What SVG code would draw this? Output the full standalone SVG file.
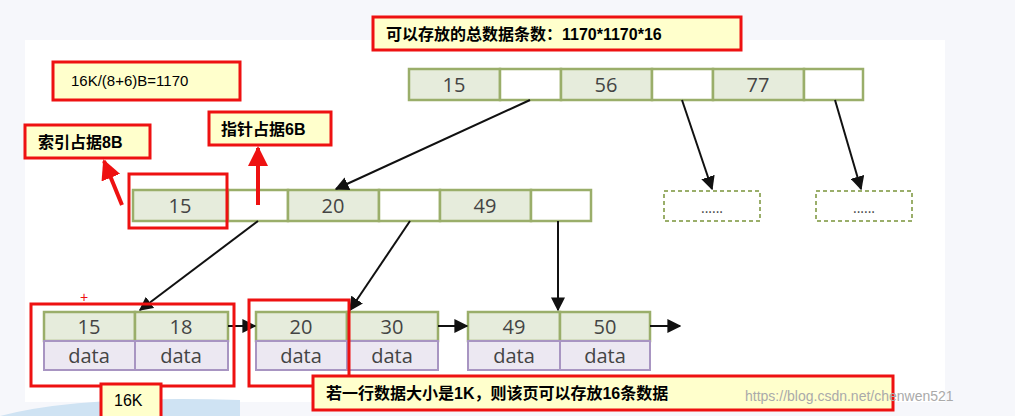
<svg xmlns="http://www.w3.org/2000/svg" width="1015" height="416" viewBox="0 0 1015 416">
<defs>
<marker id="ah" viewBox="0 0 10 10" refX="9" refY="5" markerWidth="7" markerHeight="7" orient="auto-start-reverse"><path d="M0,0L10,5L0,10z" fill="#111"/></marker>
<marker id="rh" viewBox="0 0 10 10" refX="9" refY="5" markerWidth="5" markerHeight="5" orient="auto"><path d="M0,0L10,5L0,10z" fill="#e11"/></marker>
<style>
.k{fill:#e6ecdc;stroke:#9aae6a;stroke-width:2.5}
.b{fill:#fff;stroke:#9aae6a;stroke-width:2.5}
.d{fill:#ece8f2;stroke:#a895c2;stroke-width:2}
.dash{fill:#fff;stroke:#9aae6a;stroke-width:2;stroke-dasharray:4,3}
.t{font-family:"Open Sans","DejaVu Sans",sans-serif;font-size:20px;fill:#444;text-anchor:middle}
.c{fill:#ffffcc;stroke:#ee1111;stroke-width:3}
.ct{font-family:"Liberation Sans","Noto Sans CJK SC",sans-serif;font-size:16px;fill:#000;font-weight:bold}
.rb{fill:none;stroke:#ee1111;stroke-width:3}
.con{stroke:#111;stroke-width:2;fill:none;marker-end:url(#ah)}
.rc{stroke:#e11;stroke-width:4;fill:none;marker-end:url(#rh)}
</style>
</defs>
<rect width="1015" height="416" fill="#f6f7fb"/>
<rect x="25" y="40" width="920" height="362" fill="#fff"/>
<path d="M0,416 Q80,395 240,400 L240,416z" fill="#cfe3f3"/>
<g id="root">
<rect class="k" x="409" y="69" width="91" height="31"/><rect class="b" x="500" y="69" width="61" height="31"/>
<rect class="k" x="561" y="69" width="91" height="31"/><rect class="b" x="652" y="69" width="61" height="31"/>
<rect class="k" x="713" y="69" width="91" height="31"/><rect class="b" x="804" y="69" width="59" height="31"/>
<text class="t" x="454" y="92">15</text><text class="t" x="606" y="92">56</text><text class="t" x="758" y="92">77</text>
</g>
<g id="mid">
<rect class="k" x="133" y="190" width="95" height="31"/><rect class="b" x="228" y="190" width="60" height="31"/>
<rect class="k" x="288" y="190" width="91" height="31"/><rect class="b" x="379" y="190" width="61" height="31"/>
<rect class="k" x="440" y="190" width="91" height="31"/><rect class="b" x="531" y="190" width="60" height="31"/>
<text class="t" x="180" y="213">15</text><text class="t" x="333" y="213">20</text><text class="t" x="485" y="213">49</text>
</g>
<g id="dash1"><rect class="dash" x="664" y="191" width="96" height="30"/><text class="t" x="712" y="213" style="font-size:14px">......</text></g>
<g id="dash2"><rect class="dash" x="816" y="191" width="96" height="30"/><text class="t" x="864" y="213" style="font-size:14px">......</text></g>
<g id="leaf1">
<rect class="k" x="44" y="312" width="91" height="29"/><rect class="k" x="135" y="312" width="93" height="29"/>
<rect class="d" x="44" y="341" width="91" height="29"/><rect class="d" x="135" y="341" width="93" height="29"/>
<text class="t" x="89" y="334">15</text><text class="t" x="181" y="334">18</text>
<text class="t" x="89" y="363">data</text><text class="t" x="181" y="363">data</text>
</g>
<g id="leaf2">
<rect class="k" x="256" y="312" width="91" height="29"/><rect class="k" x="347" y="312" width="91" height="29"/>
<rect class="d" x="256" y="341" width="91" height="29"/><rect class="d" x="347" y="341" width="91" height="29"/>
<text class="t" x="301" y="334">20</text><text class="t" x="392" y="334">30</text>
<text class="t" x="301" y="363">data</text><text class="t" x="392" y="363">data</text>
</g>
<g id="leaf3">
<rect class="k" x="468" y="312" width="92" height="29"/><rect class="k" x="560" y="312" width="90" height="29"/>
<rect class="d" x="468" y="341" width="92" height="29"/><rect class="d" x="560" y="341" width="90" height="29"/>
<text class="t" x="514" y="334">49</text><text class="t" x="605" y="334">50</text>
<text class="t" x="514" y="363">data</text><text class="t" x="605" y="363">data</text>
</g>
<g id="connectors">
<line class="con" x1="530" y1="100" x2="336" y2="189"/>
<line class="con" x1="682" y1="100" x2="712" y2="189"/>
<line class="con" x1="835" y1="100" x2="861" y2="189"/>
<line class="con" x1="258" y1="221" x2="140" y2="310"/>
<line class="con" x1="410" y1="221" x2="350" y2="310"/>
<line class="con" x1="558" y1="221" x2="558" y2="310"/>
<line class="con" x1="228" y1="326" x2="255" y2="326"/>
<line class="con" x1="438" y1="326" x2="467" y2="326"/>
<line class="con" x1="650" y1="326" x2="680" y2="326"/>
<line class="rc" x1="122" y1="205" x2="104" y2="161"/>
<line class="rc" x1="258" y1="205" x2="258" y2="148"/>
</g>
<g id="highlights">
<rect class="rb" x="129" y="174" width="98" height="54"/>
<rect class="rb" x="31" y="304" width="203" height="82"/>
<rect class="rb" x="249" y="300" width="100" height="86"/>
<text x="84" y="302" font-family="Liberation Sans,sans-serif" font-size="14" fill="#e11" text-anchor="middle">+</text>
</g>
<g id="note-total"><rect class="c" x="373" y="17" width="368" height="33"/><text class="ct" x="386" y="40">可以存放的总数据条数：1170*1170*16</text></g>
<g id="note-calc"><rect class="c" x="53" y="62" width="187" height="38"/><text class="ct" x="71" y="86" style="font-weight:normal;font-size:15px">16K/(8+6)B=1170</text></g>
<g id="note-index"><rect class="c" x="25" y="125" width="125" height="33"/><text class="ct" x="38" y="148">索引占据8B</text></g>
<g id="note-ptr"><rect class="c" x="209" y="112" width="122" height="33"/><text class="ct" x="221" y="135">指针占据6B</text></g>
<g id="note-16k"><rect class="c" x="101" y="384" width="60" height="34"/><text class="ct" x="114" y="406" style="font-weight:normal">16K</text></g>
<g id="note-row"><rect class="c" x="313" y="376" width="580" height="34"/><text class="ct" x="326" y="399">若一行数据大小是1K，则该页可以存放16条数据</text></g>
<text x="745" y="401" font-family="Liberation Sans,sans-serif" font-size="14" fill="#aaa">https://blog.csdn.net/chenwen521</text>
</svg>
